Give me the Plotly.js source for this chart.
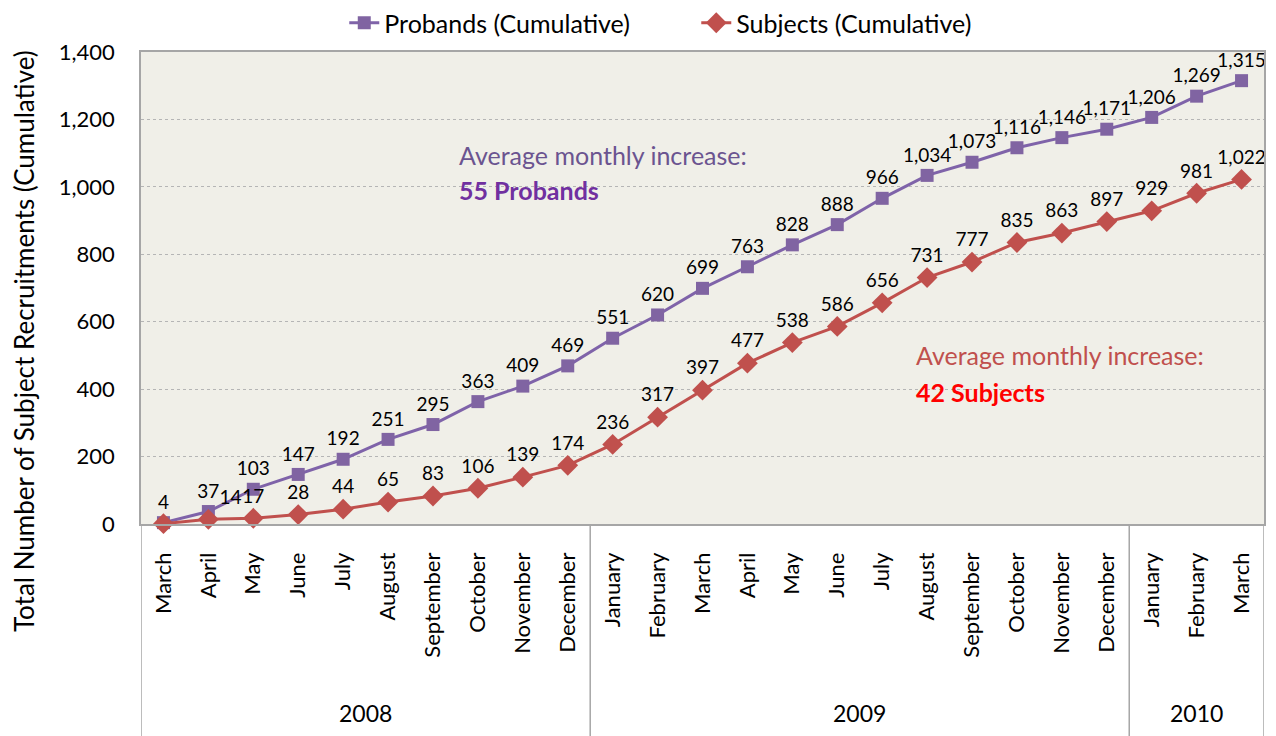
<!DOCTYPE html>
<html><head><meta charset="utf-8">
<script src="https://cdn.plot.ly/plotly-3.0.1.min.js"></script>
<style>body{margin:0;background:#fff}#chart{width:1276px;height:736px}</style>
</head><body><div id="chart"></div>
<script>
const years = ["2008","2008","2008","2008","2008","2008","2008","2008","2008","2008",
  "2009","2009","2009","2009","2009","2009","2009","2009","2009","2009","2009","2009",
  "2010","2010","2010"];
const months = ["March","April","May","June","July","August","September","October","November","December",
  "January","February","March","April","May","June","July","August","September","October","November","December",
  "January","February","March"];
const probands = [4,37,103,147,192,251,295,363,409,469,551,620,699,763,828,888,966,1034,1073,1116,1146,1171,1206,1269,1315];
const subjects = [1,14,17,28,44,65,83,106,139,174,236,317,397,477,538,586,656,731,777,835,863,897,929,981,1022];

const fmt = v => v.toLocaleString('en-US');
const FONT = "Lato, 'Open Sans', sans-serif";
const idx = months.map((m,i)=>i);

// year groups
const groups = [];
years.forEach((y,i)=>{
  if (!groups.length || groups[groups.length-1].year !== y) groups.push({year:y, start:i, end:i});
  else groups[groups.length-1].end = i;
});
const BOTTOM = -212/472;
const shapes = [];
const bounds = [-0.5].concat(groups.map(g=>g.end+0.5));
bounds.forEach(b=>shapes.push({type:"line", xref:"x", yref:"paper", x0:b, x1:b, y0:0, y1:BOTTOM,
  line:{color:"#A6A6A6", width:1.5}}));

const annotations = groups.map(g=>({xref:"x", yref:"paper", x:(g.start+g.end)/2, y:-0.40, yanchor:"middle",
  text:g.year, showarrow:false, font:{size:23, color:"#000"}}));
annotations.push(
  {xref:"paper", yref:"paper", x:-0.104, y:0.388, xanchor:"center", yanchor:"middle", textangle:-90, showarrow:false,
   text:"Total Number of Subject Recruitments (Cumulative)", font:{size:26, color:"#000"}},
  {xref:"paper", yref:"paper", x:0.281, y:0.782, xanchor:"left", yanchor:"middle", showarrow:false,
   text:"Average monthly increase:", font:{size:25, color:"#6B5490"}},
  {xref:"paper", yref:"paper", x:0.281, y:0.708, xanchor:"left", yanchor:"middle", showarrow:false,
   text:"<b>55 Probands</b>", font:{size:25, color:"#7030A0"}},
  {xref:"paper", yref:"paper", x:0.688, y:0.358, xanchor:"left", yanchor:"middle", showarrow:false,
   text:"Average monthly increase:", font:{size:25, color:"#C0504D"}},
  {xref:"paper", yref:"paper", x:0.688, y:0.280, xanchor:"left", yanchor:"middle", showarrow:false,
   text:"<b>42 Subjects</b>", font:{size:25, color:"#FF0000"}}
);

const traces = [
  {x:idx, y:probands, name:"Probands (Cumulative)", type:"scatter", mode:"lines+markers+text",
   line:{color:"#7F63A9", width:3}, marker:{symbol:"square", size:13, color:"#8064A2"},
   text:probands.map(fmt), textposition:"top center", textfont:{family:FONT, size:19, color:"#000"},
   cliponaxis:false},
  {x:idx, y:subjects, name:"Subjects (Cumulative)", type:"scatter", mode:"lines+markers+text",
   line:{color:"#C0504D", width:3}, marker:{symbol:"diamond", size:16, color:"#C0504D"},
   text:subjects.map((v,i)=> i===0 ? "" : fmt(v)),
   textposition:subjects.map((v,i)=> i===1 ? "top right" : "top center"),
   textfont:{family:FONT, size:19, color:"#000"},
   cliponaxis:false}
];

const layout = {
  width:1276, height:736,
  margin:{l:141, r:12, t:52, b:212, autoexpand:false},
  paper_bgcolor:"#fff", plot_bgcolor:"#F0EFE8",
  font:{family:FONT, size:20, color:"#000"},
  showlegend:true,
  legend:{orientation:"h", x:0.181, xanchor:"left", yref:"container", y:1.0, yanchor:"top", font:{size:25},
    entrywidth:307, bgcolor:"rgba(0,0,0,0)"},
  xaxis:{range:[-0.5, months.length-0.5], tickvals:idx, ticktext:months, tickangle:-90, tickfont:{size:22},
    showline:true, linecolor:"#A6A6A6", linewidth:1.5, mirror:true, showgrid:false, zeroline:false,
    ticks:"outside", ticklen:18, tickcolor:"rgba(0,0,0,0)"},
  yaxis:{range:[0,1400], dtick:200, tickformat:",d", tickfont:{size:22}, showline:true, linecolor:"#A6A6A6", linewidth:1.5, mirror:true,
    gridcolor:"#B5B5B5", griddash:"dot", zeroline:false, ticks:"outside", ticklen:20, tickcolor:"rgba(0,0,0,0)"},
  shapes:shapes,
  annotations:annotations
};
Plotly.newPlot("chart", traces, layout, {displayModeBar:false});
</script></body></html>
